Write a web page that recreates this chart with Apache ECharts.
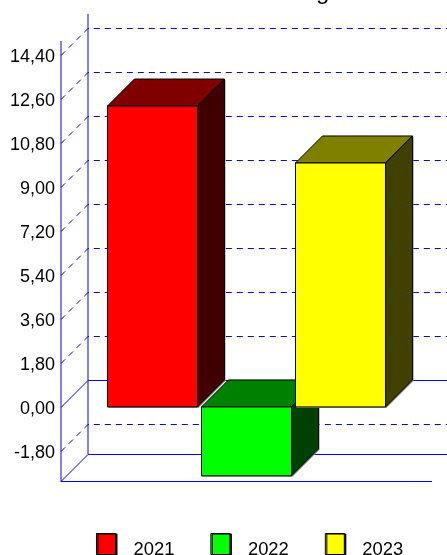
<!DOCTYPE html>
<html>
<head>
<meta charset="utf-8">
<style>html,body{margin:0;padding:0;background:#fff;overflow:hidden}#c{width:447px;height:555px}</style>
<script src="https://cdn.jsdelivr.net/npm/echarts@6/dist/echarts.min.js"></script>
</head>
<body>
<div id="c"></div>
<script>
const years = ['2021', '2022', '2023'];
const values = [12.31, -2.82, 9.98];
const tickValues = [-1.8, 0, 1.8, 3.6, 5.4, 7.2, 9, 10.8, 12.6, 14.4];
const faceColors = ['#ff0000', '#00ff00', '#ffff00'];
const topColors = ['#800000', '#008000', '#808000'];
const sideColors = ['#400000', '#004000', '#404000'];
const axisMin = -3.03, axisMax = 14.97;
const xMin = -0.973, xMax = 2.973;
const blue = '#0000ff', D = 27;

const chart = echarts.init(document.getElementById('c'), null, {renderer: 'canvas'});

function line(pts, dash) {
  return {type: 'polyline', shape: {points: pts}, silent: true,
    style: {stroke: blue, lineWidth: 1, fill: null, lineDash: dash ? [6, 5] : null}};
}
const gridSeries = {
  type: 'custom', silent: true, z: 1, animation: false,
  data: tickValues.map(v => [0, v]),
  renderItem(p, api) {
    const v = api.value(1);
    const a = api.coord([xMin, v]);
    const right = api.coord([xMax, v])[0] + D * 2;
    const y = Math.round(a[1]);
    return line([[a[0], y + 0.5], [a[0] + D, y - D + 0.5], [right, y - D + 0.5]], v !== 0);
  }
};
const frameSeries = {
  type: 'custom', silent: true, z: 1, animation: false,
  data: [[0, 0]],
  renderItem(p, api) {
    const bl = api.coord([xMin, axisMin]), tl = api.coord([xMin, axisMax]);
    const br = api.coord([xMax, axisMin]);
    return {type: 'group', children: [
      line([[tl[0], tl[1]], [bl[0], bl[1] + 0.5], [br[0], bl[1] + 0.5]]),
      line([[bl[0], bl[1] + 0.5], [bl[0] + D, bl[1] - D + 0.5]]),
      line([[bl[0] + D, tl[1] - D], [bl[0] + D, bl[1] - D + 0.5], [br[0] + D * 2, bl[1] - D + 0.5]])
    ]};
  }
};
const barSeries = years.map((y, i) => ({
  name: y, type: 'custom', z: 2 + (i === 1 ? 0 : i), animation: false,
  itemStyle: {color: faceColors[i]},
  data: [[i, values[i]]],
  renderItem(p, api) {
    const x = api.value(0), v = api.value(1), hw = 0.479;
    const tl = api.coord([x - hw, Math.max(v, 0)]);
    const br = api.coord([x + hw, Math.min(v, 0)]);
    const l = tl[0], t = tl[1], r = br[0], b = br[1];
    const st = c => ({fill: c, stroke: '#000', lineWidth: 1, lineJoin: 'round'});
    const poly = (pts, c) => ({type: 'polygon', shape: {points: pts}, style: st(c)});
    const sil = [[l, t], [l + D, t - D], [r + D, t - D], [r + D, b - D], [r, b], [l, b]]
      .map(q => [q[0] + 1, q[1] + 1]);
    return {type: 'group', children: [
      {type: 'polygon', shape: {points: sil}, style: {fill: '#999'}},
      poly([[l, t], [l + D, t - D], [r + D, t - D], [r, t]], topColors[i]),
      poly([[r, t], [r + D, t - D], [r + D, b - D], [r, b]], sideColors[i]),
      poly([[l, t], [r, t], [r, b], [l, b]], faceColors[i])
    ]};
  }
}));

chart.setOption({
  backgroundColor: '#fff',
  animation: false,
  textStyle: {fontFamily: '"Liberation Sans"'},
  title: {text: 'g', left: 311, top: -25, textStyle: {fontSize: 24, fontWeight: 'normal', color: '#000', fontFamily: '"Liberation Sans"'}},
  grid: {left: 61, right: 15, top: 41, bottom: 74},
  xAxis: {type: 'value', min: xMin, max: xMax, show: false},
  yAxis: {
    type: 'value', min: axisMin, max: axisMax,
    axisLine: {show: false}, axisTick: {show: false}, splitLine: {show: false},
    axisLabel: {
      customValues: tickValues, margin: 6,
      formatter: v => '{a|' + v.toFixed(2).replace('.', ',') + '}',
      rich: {a: {fontSize: 18, color: '#000', fontFamily: '"Liberation Sans"', padding: [5, 0, 0, 0]}}
    }
  },
  legend: {
    data: years, left: 96, top: 533, orient: 'horizontal', padding: 0,
    itemWidth: 19, itemHeight: 21, itemGap: 36, icon: 'rect', selectedMode: false,
    itemStyle: {borderColor: '#000', borderWidth: 1, shadowColor: '#000', shadowOffsetX: 1.5, shadowOffsetY: 0.5, shadowBlur: 0},
    formatter: name => '{a|' + name + '}',
    textStyle: {rich: {a: {fontSize: 18.4, color: '#000', fontFamily: '"Liberation Sans"', padding: [12, 0, 0, 13]}}}
  },
  series: [gridSeries, frameSeries, ...barSeries]
});
</script>
</body>
</html>
